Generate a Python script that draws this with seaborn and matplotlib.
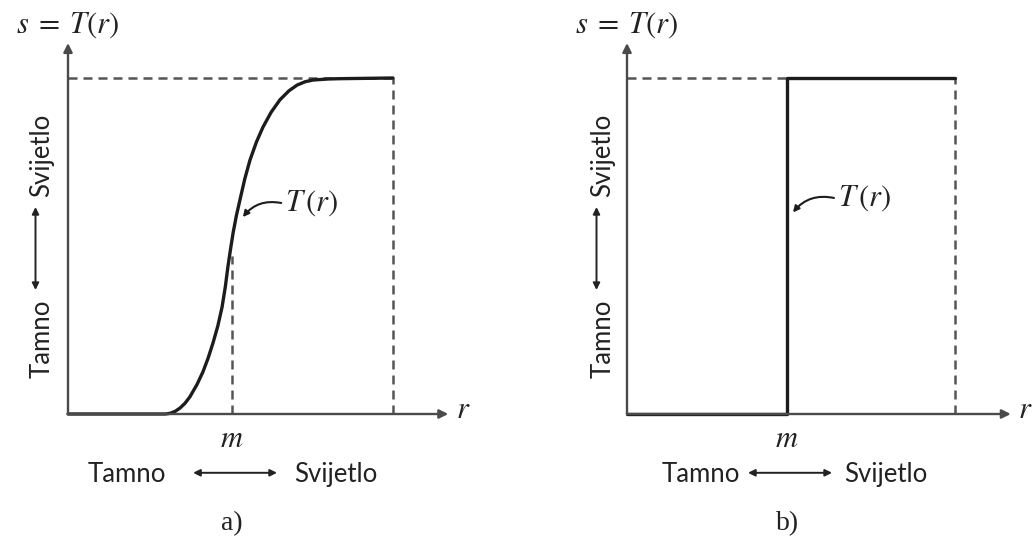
import numpy as np
import pandas as pd
import seaborn as sns
import matplotlib.pyplot as plt

# ---------------------------
# Podaci (ocitano sa slike, r i s normirani na [0, 1])
# ---------------------------
r_a = [0.0, 0.300, 0.314, 0.330, 0.345, 0.360, 0.375, 0.397, 0.415, 0.431,
       0.446, 0.461, 0.474, 0.484, 0.492, 0.500, 0.508, 0.518, 0.529, 0.544,
       0.560, 0.580, 0.600, 0.625, 0.652, 0.680, 0.705, 0.730, 0.754, 0.800,
       0.837, 1.0]
s_a = [0.0, 0.0, 0.002, 0.008, 0.018, 0.032, 0.051, 0.088, 0.125, 0.166,
       0.211, 0.262, 0.318, 0.378, 0.438, 0.490, 0.539, 0.590, 0.637, 0.700,
       0.756, 0.810, 0.854, 0.898, 0.935, 0.962, 0.979, 0.989, 0.994, 0.997,
       0.998, 1.0]
m_a = 0.505
m_a_top = 0.47

r_b = [0.0, 0.488, 0.488, 1.0]
s_b = [0.0, 0.0, 1.0, 1.0]
m_b = 0.488

panel_labels = ["a)", "b)"]
y_words = ["Svijetlo", "Tamno"]
x_words = ["Tamno", "Svijetlo"]

# ---------------------------
# Stil
# ---------------------------
sns.set_style("white")
plt.rcParams["mathtext.fontset"] = "stix"
plt.rcParams["font.family"] = ["Lato", "DejaVu Sans"]

AX_COL = "#4a4a4a"
DASH_COL = "#555555"
TXT_COL = "#222222"
CURVE_COL = "#1c1c1c"
DASH = (0, (3.6, 2.4))

W, H = 1032, 544
fig = plt.figure(figsize=(W / 100, H / 100), dpi=100)
# osi postavljene tako da r=0..1, s=0..1 pada na okvir grafa
ax_a = fig.add_axes([68 / W, (H - 414) / H, 325 / W, 336 / H])
ax_b = fig.add_axes([627 / W, (H - 414) / H, 328 / W, 336 / H])


def arrow(ax, p0, p1, both=False, lw=1.7, col=AX_COL, ms=13):
    style = "<|-|>" if both else "-|>"
    ax.annotate("", xy=p1, xytext=p0, annotation_clip=False,
                arrowprops=dict(arrowstyle=style, lw=lw, color=col,
                                mutation_scale=ms, shrinkA=0, shrinkB=0))


def frame(ax, m, lbl, cfg):
    ax.set_xlim(0, 1)
    ax.set_ylim(0, 1)
    ax.axis("off")

    # koordinatne osi
    arrow(ax, (0, 0), (1.17, 0))
    arrow(ax, (0, 0), (0, 1.104))

    # isprekidane granice
    ax.plot([0, 1], [1, 1], ls=DASH, lw=1.8, color=DASH_COL, clip_on=False)
    ax.plot([1, 1], [0, 1], ls=DASH, lw=1.8, color=DASH_COL, clip_on=False)

    serif = dict(color=TXT_COL, fontsize=22)
    ax.text(0.0, 1.158, r"$s\;=\;T(r)$", ha="center", va="center", **serif)
    ax.text(1.215, 0.015, r"$r$", ha="center", va="center", **serif)
    ax.text(m, -0.07, r"$m$", ha="center", va="center", **serif)
    ax.text(m, -0.325, lbl, ha="center", va="center", color=TXT_COL,
            fontsize=20, family="Liberation Serif")

    # tekst T(r) s pokazivacem
    ax.text(cfg["tx"], cfg["ty"], r"$T\,(r)$", ha="left", va="center", **serif)
    ax.annotate("", xy=cfg["tip"], xytext=(cfg["tx"] - 0.012, cfg["ty"]),
                annotation_clip=False,
                arrowprops=dict(arrowstyle="-|>", lw=1.5, color=CURVE_COL,
                                mutation_scale=9, shrinkA=0, shrinkB=0,
                                connectionstyle="arc3,rad=0.3"))

    # oznake svjetline uz y os
    sans = dict(color=TXT_COL, fontsize=18.5, ha="center", va="center")
    yx = cfg["yx"]
    ax.text(yx, 0.771, y_words[0], rotation=90, **sans)
    ax.text(yx, 0.223, y_words[1], rotation=90, **sans)
    arrow(ax, (yx - 0.02, 0.369), (yx - 0.02, 0.616), both=True,
          lw=1.4, col="#222222", ms=10)

    # oznake svjetline ispod x osi
    ax.text(cfg["xt"][0], -0.18, x_words[0], **sans)
    ax.text(cfg["xt"][1], -0.18, x_words[1], **sans)
    arrow(ax, (cfg["xa"][0], -0.175), (cfg["xa"][1], -0.175), both=True,
          lw=1.4, col="#222222", ms=10)


# ---------------------------
# a) glatka krivulja
# ---------------------------
frame(ax_a, m_a, panel_labels[0],
      dict(tx=0.668, ty=0.628, tip=(0.538, 0.586), yx=-0.08,
           xt=(0.182, 0.825), xa=(0.385, 0.643)))
ax_a.plot([m_a, m_a], [0, m_a_top], ls=DASH, lw=1.8, color=DASH_COL)
df_a = pd.DataFrame({"r": r_a, "s": s_a})
sns.lineplot(data=df_a, x="r", y="s", ax=ax_a, color=CURVE_COL, lw=2.4,
             sort=False, estimator=None, clip_on=False)

# ---------------------------
# b) prag (step)
# ---------------------------
frame(ax_b, m_b, panel_labels[1],
      dict(tx=0.643, ty=0.643, tip=(0.506, 0.60), yx=-0.073,
           xt=(0.226, 0.79), xa=(0.369, 0.625)))
df_b = pd.DataFrame({"r": r_b, "s": s_b})
sns.lineplot(data=df_b, x="r", y="s", ax=ax_b, color=CURVE_COL, lw=2.4,
             sort=False, estimator=None, clip_on=False)

for ax in (ax_a, ax_b):
    ax.set_xlabel("")
    ax.set_ylabel("")

fig.savefig("out.png", dpi=100)
plt.close(fig)
